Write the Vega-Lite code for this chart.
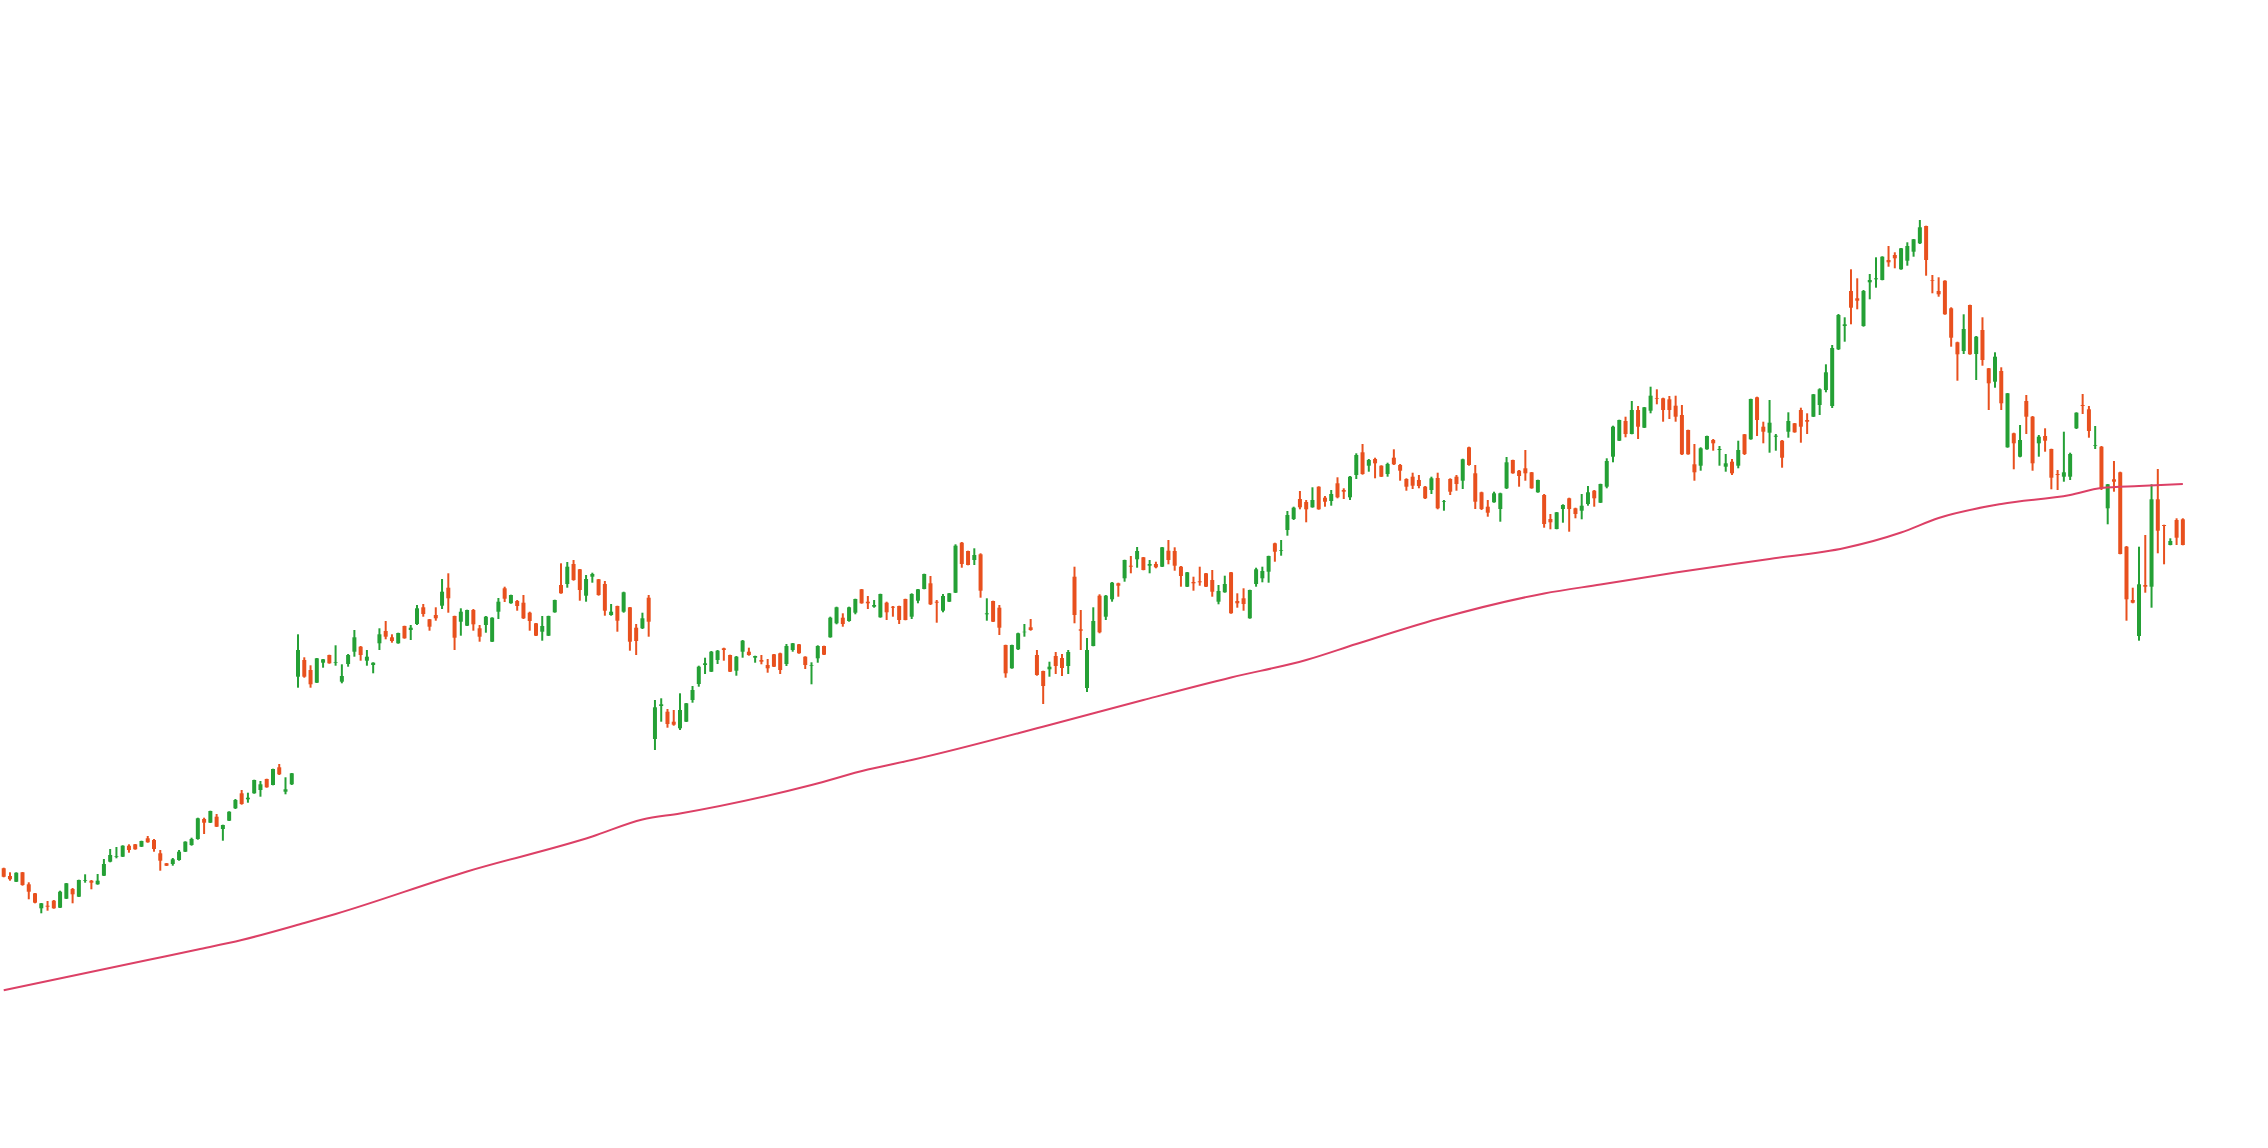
{
"$schema":"https://vega.github.io/schema/vega-lite/v6.json",
"width":2268,"height":1148,
"autosize":{"type":"fit","contains":"padding"},
"padding":0,
"background":"white",
"config":{"view":{"stroke":null}},
"datasets":{
"candles":[
{"day":-1,"open":27.97,"high":28.03,"low":27.07,"close":27.13},
{"day":0,"open":27.2,"high":27.57,"low":26.73,"close":26.87},
{"day":1,"open":26.63,"high":27.57,"low":26.6,"close":27.53},
{"day":2,"open":27.57,"high":27.6,"low":26.23,"close":26.3},
{"day":3,"open":26.37,"high":26.57,"low":24.87,"close":25.63},
{"day":4,"open":25.47,"high":25.5,"low":24.47,"close":24.53},
{"day":5,"open":23.97,"high":24.5,"low":23.47,"close":24.47},
{"day":6,"open":24.23,"high":24.7,"low":23.73,"close":24.13},
{"day":7,"open":24.73,"high":24.8,"low":23.93,"close":23.97},
{"day":8,"open":24.03,"high":25.73,"low":24.0,"close":25.63},
{"day":9,"open":24.93,"high":26.5,"low":24.9,"close":26.47},
{"day":10,"open":25.9,"high":26.0,"low":24.47,"close":25.37},
{"day":11,"open":25.13,"high":26.83,"low":25.1,"close":26.8},
{"day":12,"open":26.7,"high":27.37,"low":26.53,"close":26.77},
{"day":13,"open":26.73,"high":26.8,"low":25.87,"close":26.53},
{"day":14,"open":26.37,"high":27.4,"low":26.33,"close":26.73},
{"day":15,"open":27.23,"high":28.9,"low":27.2,"close":28.4},
{"day":16,"open":28.63,"high":29.9,"low":28.57,"close":29.3},
{"day":17,"open":29.13,"high":30.1,"low":28.97,"close":29.2},
{"day":18,"open":29.13,"high":30.27,"low":29.1,"close":30.23},
{"day":19,"open":30.23,"high":30.37,"low":29.53,"close":29.8},
{"day":20,"open":30.37,"high":30.4,"low":29.83,"close":29.87},
{"day":21,"open":30.13,"high":30.73,"low":30.1,"close":30.7},
{"day":22,"open":30.97,"high":31.2,"low":30.53,"close":30.57},
{"day":23,"open":30.8,"high":30.9,"low":29.63,"close":29.9},
{"day":24,"open":29.47,"high":29.8,"low":27.73,"close":28.73},
{"day":25,"open":28.47,"high":28.5,"low":28.2,"close":28.23},
{"day":26,"open":28.4,"high":29.0,"low":28.23,"close":28.87},
{"day":27,"open":28.8,"high":29.8,"low":28.73,"close":29.63},
{"day":28,"open":29.63,"high":30.67,"low":29.6,"close":30.63},
{"day":29,"open":30.3,"high":31.03,"low":30.23,"close":30.9},
{"day":30,"open":30.9,"high":33.03,"low":30.83,"close":32.97},
{"day":31,"open":32.9,"high":33.03,"low":31.4,"close":32.53},
{"day":32,"open":32.53,"high":33.73,"low":32.5,"close":33.7},
{"day":33,"open":33.13,"high":33.4,"low":32.1,"close":32.13},
{"day":34,"open":31.9,"high":32.33,"low":30.73,"close":32.3},
{"day":35,"open":32.73,"high":33.67,"low":32.7,"close":33.63},
{"day":36,"open":33.97,"high":34.9,"low":33.9,"close":34.8},
{"day":37,"open":35.47,"high":35.8,"low":34.33,"close":34.4},
{"day":38,"open":34.87,"high":35.53,"low":34.53,"close":35.03},
{"day":39,"open":35.47,"high":36.83,"low":35.43,"close":36.8},
{"day":40,"open":35.8,"high":36.7,"low":35.13,"close":36.37},
{"day":41,"open":36.9,"high":36.93,"low":36.03,"close":36.07},
{"day":42,"open":36.3,"high":37.93,"low":36.27,"close":37.9},
{"day":43,"open":38.07,"high":38.4,"low":37.3,"close":37.37},
{"day":44,"open":35.63,"high":37.07,"low":35.37,"close":35.87},
{"day":45,"open":36.37,"high":37.5,"low":36.3,"close":37.47},
{"day":46,"open":47.13,"high":51.37,"low":46.03,"close":49.8},
{"day":47,"open":48.8,"high":49.07,"low":47.03,"close":47.13},
{"day":48,"open":47.8,"high":48.27,"low":46.03,"close":46.37},
{"day":49,"open":46.53,"high":49.0,"low":46.5,"close":48.97},
{"day":50,"open":48.53,"high":48.9,"low":48.03,"close":48.87},
{"day":51,"open":49.3,"high":49.33,"low":48.43,"close":48.47},
{"day":52,"open":48.53,"high":50.27,"low":48.23,"close":48.6},
{"day":53,"open":46.63,"high":48.37,"low":46.47,"close":47.2},
{"day":54,"open":48.4,"high":49.4,"low":48.13,"close":49.3},
{"day":55,"open":49.63,"high":51.8,"low":49.13,"close":51.07},
{"day":56,"open":50.13,"high":50.2,"low":48.73,"close":49.3},
{"day":57,"open":48.73,"high":49.8,"low":48.23,"close":49.13},
{"day":58,"open":48.3,"high":48.57,"low":47.47,"close":48.53},
{"day":59,"open":50.47,"high":51.97,"low":49.8,"close":51.37},
{"day":60,"open":51.7,"high":52.7,"low":50.87,"close":51.13},
{"day":61,"open":51.07,"high":51.37,"low":50.53,"close":50.7},
{"day":62,"open":50.47,"high":51.53,"low":50.43,"close":51.5},
{"day":63,"open":52.2,"high":52.23,"low":50.93,"close":50.97},
{"day":64,"open":51.8,"high":52.3,"low":50.8,"close":52.03},
{"day":65,"open":52.4,"high":54.3,"low":52.3,"close":53.97},
{"day":66,"open":54.07,"high":54.4,"low":53.13,"close":53.4},
{"day":67,"open":52.87,"high":52.9,"low":51.73,"close":52.13},
{"day":68,"open":53.3,"high":54.07,"low":52.73,"close":52.97},
{"day":69,"open":54.23,"high":56.9,"low":53.9,"close":55.63},
{"day":70,"open":56.03,"high":57.47,"low":53.53,"close":54.97},
{"day":71,"open":53.2,"high":53.23,"low":49.8,"close":51.03},
{"day":72,"open":52.63,"high":53.97,"low":51.23,"close":53.63},
{"day":73,"open":52.23,"high":53.83,"low":52.2,"close":53.8},
{"day":74,"open":53.8,"high":53.9,"low":51.73,"close":52.37},
{"day":75,"open":51.97,"high":52.3,"low":50.63,"close":51.13},
{"day":76,"open":52.3,"high":53.2,"low":51.53,"close":53.13},
{"day":77,"open":50.63,"high":53.07,"low":50.6,"close":53.03},
{"day":78,"open":53.63,"high":55.0,"low":52.9,"close":54.63},
{"day":79,"open":55.97,"high":56.13,"low":54.6,"close":54.93},
{"day":80,"open":54.47,"high":55.33,"low":54.43,"close":55.3},
{"day":81,"open":54.7,"high":54.8,"low":53.73,"close":54.2},
{"day":82,"open":54.53,"high":55.3,"low":52.9,"close":52.97},
{"day":83,"open":53.53,"high":53.63,"low":51.73,"close":52.7},
{"day":84,"open":52.47,"high":52.5,"low":51.2,"close":51.23},
{"day":85,"open":51.63,"high":53.2,"low":50.73,"close":52.2},
{"day":86,"open":51.23,"high":53.23,"low":51.2,"close":53.2},
{"day":87,"open":53.57,"high":54.83,"low":53.53,"close":54.8},
{"day":88,"open":56.3,"high":58.47,"low":55.43,"close":55.47},
{"day":89,"open":56.4,"high":58.6,"low":56.03,"close":58.13},
{"day":90,"open":58.4,"high":58.8,"low":56.73,"close":56.8},
{"day":91,"open":57.87,"high":57.9,"low":54.73,"close":55.8},
{"day":92,"open":55.23,"high":57.3,"low":54.63,"close":56.9},
{"day":93,"open":57.13,"high":57.53,"low":56.53,"close":57.4},
{"day":94,"open":56.87,"high":56.9,"low":55.23,"close":55.3},
{"day":95,"open":56.4,"high":56.7,"low":53.23,"close":53.73},
{"day":96,"open":53.3,"high":54.4,"low":53.23,"close":53.63},
{"day":97,"open":54.2,"high":54.23,"low":51.63,"close":52.73},
{"day":98,"open":53.63,"high":55.63,"low":53.53,"close":55.57},
{"day":99,"open":54.07,"high":54.1,"low":49.73,"close":50.63},
{"day":100,"open":52.03,"high":52.4,"low":49.3,"close":50.7},
{"day":101,"open":51.97,"high":53.53,"low":51.9,"close":52.97},
{"day":102,"open":55.03,"high":55.3,"low":51.13,"close":52.63},
{"day":103,"open":40.9,"high":44.8,"low":39.8,"close":44.07},
{"day":104,"open":44.2,"high":44.97,"low":42.63,"close":44.37},
{"day":105,"open":43.63,"high":43.9,"low":42.03,"close":42.4},
{"day":106,"open":42.63,"high":43.8,"low":42.23,"close":42.33},
{"day":107,"open":41.97,"high":45.47,"low":41.8,"close":43.8},
{"day":108,"open":42.63,"high":44.5,"low":42.6,"close":44.47},
{"day":109,"open":44.8,"high":46.2,"low":44.53,"close":45.8},
{"day":110,"open":46.4,"high":48.23,"low":46.13,"close":48.13},
{"day":111,"open":48.3,"high":49.03,"low":47.4,"close":48.47},
{"day":112,"open":47.63,"high":49.7,"low":47.6,"close":49.63},
{"day":113,"open":48.8,"high":49.8,"low":48.4,"close":49.73},
{"day":114,"open":49.97,"high":50.03,"low":48.73,"close":49.8},
{"day":115,"open":49.3,"high":49.33,"low":47.6,"close":47.63},
{"day":116,"open":47.73,"high":49.2,"low":47.23,"close":49.13},
{"day":117,"open":49.63,"high":50.8,"low":49.03,"close":50.73},
{"day":118,"open":49.63,"high":50.03,"low":49.23,"close":49.3},
{"day":119,"open":49.03,"high":49.23,"low":48.53,"close":49.2},
{"day":120,"open":48.8,"high":49.3,"low":48.37,"close":48.63},
{"day":121,"open":48.3,"high":48.9,"low":47.53,"close":47.97},
{"day":122,"open":49.37,"high":49.4,"low":48.1,"close":48.13},
{"day":123,"open":49.47,"high":49.53,"low":47.4,"close":47.8},
{"day":124,"open":48.4,"high":50.4,"low":48.2,"close":50.2},
{"day":125,"open":49.8,"high":50.5,"low":49.63,"close":50.47},
{"day":126,"open":50.37,"high":50.4,"low":49.43,"close":49.47},
{"day":127,"open":49.13,"high":49.17,"low":47.9,"close":48.3},
{"day":128,"open":48.2,"high":48.57,"low":46.37,"close":48.27},
{"day":129,"open":48.97,"high":50.27,"low":48.53,"close":50.2},
{"day":130,"open":50.2,"high":50.23,"low":49.3,"close":49.33},
{"day":131,"open":51.07,"high":53.13,"low":51.03,"close":53.03},
{"day":132,"open":52.47,"high":54.13,"low":52.37,"close":54.07},
{"day":133,"open":53.03,"high":53.47,"low":52.13,"close":52.4},
{"day":134,"open":52.7,"high":54.13,"low":52.63,"close":54.07},
{"day":135,"open":53.53,"high":54.93,"low":53.37,"close":54.9},
{"day":136,"open":55.87,"high":55.9,"low":54.43,"close":54.47},
{"day":137,"open":54.63,"high":55.2,"low":53.9,"close":54.47},
{"day":138,"open":54.13,"high":54.8,"low":54.03,"close":54.3},
{"day":139,"open":53.07,"high":55.43,"low":53.03,"close":55.4},
{"day":140,"open":54.53,"high":54.63,"low":52.8,"close":53.57},
{"day":141,"open":54.13,"high":54.2,"low":53.13,"close":54.03},
{"day":142,"open":54.2,"high":54.23,"low":52.4,"close":52.8},
{"day":143,"open":54.9,"high":54.93,"low":52.77,"close":52.8},
{"day":144,"open":53.13,"high":55.47,"low":52.9,"close":55.4},
{"day":145,"open":54.73,"high":55.9,"low":54.47,"close":55.87},
{"day":146,"open":55.9,"high":57.43,"low":55.87,"close":57.4},
{"day":147,"open":56.47,"high":57.2,"low":54.3,"close":54.37},
{"day":148,"open":54.63,"high":54.8,"low":52.53,"close":54.53},
{"day":149,"open":53.73,"high":55.4,"low":53.57,"close":55.2},
{"day":150,"open":54.63,"high":55.5,"low":54.6,"close":55.47},
{"day":151,"open":55.53,"high":60.37,"low":55.5,"close":60.23},
{"day":152,"open":60.53,"high":60.6,"low":58.03,"close":58.4},
{"day":153,"open":59.7,"high":59.73,"low":58.27,"close":58.3},
{"day":154,"open":58.8,"high":59.97,"low":58.3,"close":59.3},
{"day":155,"open":59.37,"high":59.47,"low":55.03,"close":55.73},
{"day":156,"open":53.37,"high":54.97,"low":52.73,"close":53.47},
{"day":157,"open":54.7,"high":54.73,"low":52.6,"close":52.63},
{"day":158,"open":54.03,"high":54.3,"low":51.3,"close":52.03},
{"day":159,"open":50.3,"high":50.33,"low":47.03,"close":47.47},
{"day":160,"open":47.97,"high":50.33,"low":47.93,"close":50.3},
{"day":161,"open":49.87,"high":51.53,"low":49.8,"close":51.47},
{"day":162,"open":51.57,"high":52.4,"low":51.13,"close":51.63},
{"day":163,"open":52.07,"high":52.9,"low":51.73,"close":51.8},
{"day":164,"open":49.3,"high":49.8,"low":47.23,"close":47.3},
{"day":165,"open":47.7,"high":47.73,"low":44.4,"close":46.2},
{"day":166,"open":47.87,"high":48.63,"low":47.13,"close":48.13},
{"day":167,"open":49.2,"high":49.6,"low":47.4,"close":48.2},
{"day":168,"open":49.0,"high":49.4,"low":47.2,"close":48.0},
{"day":169,"open":48.2,"high":49.8,"low":47.4,"close":49.6},
{"day":170,"open":57.13,"high":58.13,"low":52.47,"close":53.3},
{"day":171,"open":51.87,"high":53.8,"low":49.8,"close":51.73},
{"day":172,"open":46.0,"high":51.0,"low":45.6,"close":49.8},
{"day":173,"open":50.2,"high":54.07,"low":50.17,"close":52.7},
{"day":174,"open":55.23,"high":55.37,"low":51.47,"close":51.57},
{"day":175,"open":53.13,"high":55.3,"low":52.8,"close":55.23},
{"day":176,"open":54.87,"high":56.6,"low":54.63,"close":56.53},
{"day":177,"open":56.47,"high":56.53,"low":55.13,"close":56.23},
{"day":178,"open":56.97,"high":58.83,"low":56.63,"close":58.8},
{"day":179,"open":58.23,"high":59.2,"low":57.47,"close":58.13},
{"day":180,"open":58.87,"high":60.1,"low":58.03,"close":59.7},
{"day":181,"open":59.07,"high":59.1,"low":57.77,"close":57.8},
{"day":182,"open":58.23,"high":58.8,"low":57.47,"close":58.4},
{"day":183,"open":58.4,"high":58.63,"low":57.97,"close":58.07},
{"day":184,"open":58.13,"high":60.1,"low":58.1,"close":60.07},
{"day":185,"open":59.73,"high":60.8,"low":58.37,"close":58.8},
{"day":186,"open":59.7,"high":60.07,"low":57.73,"close":58.23},
{"day":187,"open":58.13,"high":58.2,"low":56.13,"close":57.2},
{"day":188,"open":56.13,"high":57.6,"low":56.1,"close":57.57},
{"day":189,"open":56.6,"high":57.13,"low":55.73,"close":56.47},
{"day":190,"open":56.67,"high":58.13,"low":56.23,"close":56.57},
{"day":191,"open":57.47,"high":57.5,"low":56.1,"close":56.13},
{"day":192,"open":56.8,"high":57.8,"low":55.13,"close":55.63},
{"day":193,"open":54.63,"high":56.3,"low":54.37,"close":55.7},
{"day":194,"open":55.57,"high":57.23,"low":55.53,"close":56.4},
{"day":195,"open":57.57,"high":57.6,"low":53.43,"close":53.47},
{"day":196,"open":54.7,"high":55.47,"low":54.03,"close":54.47},
{"day":197,"open":54.97,"high":55.97,"low":53.73,"close":54.4},
{"day":198,"open":52.97,"high":55.83,"low":52.93,"close":55.8},
{"day":199,"open":56.4,"high":58.03,"low":56.13,"close":57.87},
{"day":200,"open":56.97,"high":58.13,"low":56.57,"close":57.7},
{"day":201,"open":57.63,"high":59.23,"low":56.53,"close":59.2},
{"day":202,"open":60.47,"high":60.53,"low":58.63,"close":59.63},
{"day":203,"open":59.73,"high":60.8,"low":59.23,"close":59.8},
{"day":204,"open":61.8,"high":63.7,"low":61.23,"close":63.3},
{"day":205,"open":62.9,"high":64.13,"low":62.8,"close":64.03},
{"day":206,"open":64.9,"high":65.7,"low":63.87,"close":64.07},
{"day":207,"open":64.6,"high":64.8,"low":62.57,"close":63.87},
{"day":208,"open":64.07,"high":66.07,"low":64.03,"close":64.8},
{"day":209,"open":66.13,"high":66.17,"low":63.83,"close":63.87},
{"day":210,"open":65.03,"high":65.2,"low":64.13,"close":64.63},
{"day":211,"open":64.7,"high":65.8,"low":64.23,"close":65.4},
{"day":212,"open":66.47,"high":67.07,"low":64.97,"close":65.07},
{"day":213,"open":65.8,"high":65.97,"low":64.9,"close":65.63},
{"day":214,"open":65.07,"high":67.2,"low":64.8,"close":67.13},
{"day":215,"open":67.3,"high":69.47,"low":66.9,"close":69.3},
{"day":216,"open":69.57,"high":70.4,"low":67.33,"close":67.4},
{"day":217,"open":68.23,"high":68.9,"low":67.63,"close":68.8},
{"day":218,"open":68.9,"high":69.03,"low":66.97,"close":68.47},
{"day":219,"open":68.23,"high":68.27,"low":67.1,"close":67.13},
{"day":220,"open":67.4,"high":68.53,"low":67.13,"close":68.4},
{"day":221,"open":69.03,"high":69.87,"low":68.3,"close":68.37},
{"day":222,"open":68.3,"high":68.4,"low":66.73,"close":67.73},
{"day":223,"open":66.9,"high":66.97,"low":65.73,"close":66.13},
{"day":224,"open":67.13,"high":67.53,"low":65.9,"close":66.23},
{"day":225,"open":66.8,"high":67.3,"low":65.97,"close":66.2},
{"day":226,"open":66.13,"high":66.2,"low":64.9,"close":64.97},
{"day":227,"open":65.8,"high":67.13,"low":65.4,"close":66.97},
{"day":228,"open":67.0,"high":67.53,"low":63.87,"close":63.97},
{"day":229,"open":64.63,"high":64.8,"low":63.73,"close":64.7},
{"day":230,"open":66.9,"high":66.97,"low":65.3,"close":65.63},
{"day":231,"open":67.13,"high":67.3,"low":65.73,"close":66.4},
{"day":232,"open":66.73,"high":68.93,"low":65.9,"close":68.87},
{"day":233,"open":70.07,"high":70.13,"low":68.23,"close":68.3},
{"day":234,"open":67.47,"high":68.3,"low":63.9,"close":64.63},
{"day":235,"open":65.57,"high":65.63,"low":63.8,"close":63.9},
{"day":236,"open":64.13,"high":64.8,"low":63.13,"close":63.53},
{"day":237,"open":64.57,"high":65.63,"low":64.53,"close":65.47},
{"day":238,"open":63.9,"high":65.53,"low":62.63,"close":65.47},
{"day":239,"open":65.97,"high":69.1,"low":65.9,"close":68.57},
{"day":240,"open":68.8,"high":68.83,"low":67.43,"close":67.47},
{"day":241,"open":67.73,"high":67.8,"low":66.13,"close":67.2},
{"day":242,"open":67.97,"high":69.8,"low":66.73,"close":67.47},
{"day":243,"open":67.57,"high":67.6,"low":65.93,"close":65.97},
{"day":244,"open":65.57,"high":66.83,"low":65.53,"close":66.8},
{"day":245,"open":65.3,"high":65.4,"low":62.03,"close":62.4},
{"day":246,"open":62.9,"high":63.4,"low":61.87,"close":62.57},
{"day":247,"open":61.9,"high":63.6,"low":61.87,"close":63.57},
{"day":248,"open":63.9,"high":64.37,"low":62.53,"close":64.3},
{"day":249,"open":64.97,"high":65.03,"low":61.63,"close":63.9},
{"day":250,"open":63.97,"high":64.03,"low":62.97,"close":63.4},
{"day":251,"open":63.73,"high":65.4,"low":62.87,"close":64.23},
{"day":252,"open":64.4,"high":66.2,"low":64.23,"close":65.57},
{"day":253,"open":65.73,"high":65.8,"low":64.13,"close":64.97},
{"day":254,"open":64.53,"high":66.43,"low":64.5,"close":66.4},
{"day":255,"open":66.13,"high":68.97,"low":65.97,"close":68.7},
{"day":256,"open":69.13,"high":72.23,"low":68.57,"close":72.13},
{"day":257,"open":70.73,"high":72.83,"low":70.7,"close":72.8},
{"day":258,"open":72.7,"high":73.13,"low":71.07,"close":71.4},
{"day":259,"open":71.4,"high":74.7,"low":71.37,"close":73.8},
{"day":260,"open":73.8,"high":74.2,"low":70.9,"close":72.13},
{"day":261,"open":72.03,"high":74.1,"low":72.0,"close":74.07},
{"day":262,"open":73.73,"high":76.13,"low":73.47,"close":75.23},
{"day":263,"open":74.97,"high":75.87,"low":74.37,"close":74.9},
{"day":264,"open":74.97,"high":75.03,"low":72.63,"close":73.8},
{"day":265,"open":74.87,"high":75.2,"low":72.9,"close":73.8},
{"day":266,"open":74.23,"high":75.23,"low":72.63,"close":73.13},
{"day":267,"open":73.3,"high":74.3,"low":69.3,"close":69.37},
{"day":268,"open":71.8,"high":71.83,"low":69.33,"close":69.37},
{"day":269,"open":68.37,"high":70.4,"low":66.73,"close":67.57},
{"day":270,"open":68.23,"high":70.07,"low":67.73,"close":69.97},
{"day":271,"open":69.87,"high":71.23,"low":69.83,"close":71.2},
{"day":272,"open":70.8,"high":70.9,"low":69.73,"close":70.47},
{"day":273,"open":69.8,"high":70.2,"low":68.23,"close":69.9},
{"day":274,"open":68.13,"high":69.4,"low":67.63,"close":68.47},
{"day":275,"open":68.63,"high":68.9,"low":67.3,"close":67.47},
{"day":276,"open":68.23,"high":70.73,"low":67.97,"close":69.8},
{"day":277,"open":71.37,"high":71.4,"low":69.3,"close":69.4},
{"day":278,"open":70.87,"high":74.93,"low":70.83,"close":74.9},
{"day":279,"open":75.07,"high":75.13,"low":71.2,"close":72.8},
{"day":280,"open":72.13,"high":72.63,"low":70.47,"close":71.63},
{"day":281,"open":71.53,"high":74.8,"low":69.53,"close":72.53},
{"day":282,"open":71.13,"high":71.4,"low":69.73,"close":71.23},
{"day":283,"open":70.73,"high":70.8,"low":68.03,"close":69.03},
{"day":284,"open":71.63,"high":73.57,"low":71.03,"close":72.7},
{"day":285,"open":72.47,"high":72.5,"low":71.53,"close":71.57},
{"day":286,"open":73.8,"high":74.03,"low":70.53,"close":72.13},
{"day":287,"open":72.8,"high":73.47,"low":71.4,"close":72.63},
{"day":288,"open":73.13,"high":75.4,"low":73.1,"close":75.37},
{"day":289,"open":74.3,"high":75.97,"low":73.3,"close":75.87},
{"day":290,"open":75.8,"high":78.37,"low":75.57,"close":77.57},
{"day":291,"open":74.2,"high":80.3,"low":74.0,"close":80.0},
{"day":292,"open":79.87,"high":83.4,"low":79.8,"close":83.3},
{"day":293,"open":82.2,"high":83.07,"low":80.63,"close":82.37},
{"day":294,"open":85.7,"high":87.87,"low":82.37,"close":84.03},
{"day":295,"open":84.97,"high":86.97,"low":83.87,"close":84.73},
{"day":296,"open":82.2,"high":85.8,"low":82.13,"close":85.7},
{"day":297,"open":86.57,"high":87.4,"low":84.87,"close":86.8},
{"day":298,"open":86.87,"high":89.07,"low":86.03,"close":86.97},
{"day":299,"open":86.8,"high":89.17,"low":86.77,"close":89.13},
{"day":300,"open":88.8,"high":90.2,"low":88.13,"close":88.57},
{"day":301,"open":89.3,"high":89.57,"low":87.97,"close":88.97},
{"day":302,"open":87.87,"high":90.0,"low":87.83,"close":89.97},
{"day":303,"open":88.73,"high":90.57,"low":88.23,"close":90.2},
{"day":304,"open":89.63,"high":90.9,"low":89.13,"close":90.87},
{"day":305,"open":90.47,"high":92.8,"low":90.4,"close":92.07},
{"day":306,"open":92.2,"high":92.23,"low":87.23,"close":88.8},
{"day":307,"open":86.8,"high":87.3,"low":85.47,"close":86.73},
{"day":308,"open":85.7,"high":87.07,"low":85.13,"close":85.37},
{"day":309,"open":86.73,"high":86.77,"low":83.33,"close":83.37},
{"day":310,"open":83.97,"high":84.07,"low":80.13,"close":81.03},
{"day":311,"open":80.57,"high":80.63,"low":76.73,"close":79.37},
{"day":312,"open":79.7,"high":83.37,"low":79.4,"close":81.9},
{"day":313,"open":84.3,"high":84.33,"low":79.33,"close":79.37},
{"day":314,"open":79.4,"high":81.2,"low":76.8,"close":81.13},
{"day":315,"open":81.8,"high":83.07,"low":78.23,"close":78.8},
{"day":316,"open":77.97,"high":78.0,"low":73.8,"close":76.47},
{"day":317,"open":76.63,"high":79.57,"low":76.03,"close":79.13},
{"day":318,"open":77.7,"high":78.07,"low":73.8,"close":74.47},
{"day":319,"open":70.07,"high":75.5,"low":70.03,"close":75.47},
{"day":320,"open":71.47,"high":71.53,"low":67.87,"close":70.47},
{"day":321,"open":69.13,"high":72.3,"low":69.07,"close":70.8},
{"day":322,"open":74.7,"high":75.3,"low":71.4,"close":73.13},
{"day":323,"open":73.13,"high":73.2,"low":67.73,"close":68.47},
{"day":324,"open":70.47,"high":71.3,"low":69.13,"close":71.13},
{"day":325,"open":71.2,"high":71.97,"low":69.63,"close":70.73},
{"day":326,"open":69.9,"high":69.93,"low":65.87,"close":67.03},
{"day":327,"open":67.4,"high":67.8,"low":65.8,"close":67.3},
{"day":328,"open":67.13,"high":71.63,"low":66.63,"close":67.57},
{"day":329,"open":67.13,"high":69.53,"low":66.8,"close":69.4},
{"day":330,"open":71.97,"high":73.57,"low":71.9,"close":73.53},
{"day":331,"open":74.3,"high":75.4,"low":73.4,"close":74.2},
{"day":332,"open":73.87,"high":74.2,"low":71.03,"close":71.7},
{"day":333,"open":70.23,"high":72.2,"low":69.9,"close":70.3},
{"day":334,"open":70.13,"high":70.2,"low":65.8,"close":65.97},
{"day":335,"open":63.97,"high":66.4,"low":62.37,"close":66.37},
{"day":336,"open":66.87,"high":68.7,"low":65.63,"close":66.63},
{"day":337,"open":67.57,"high":67.63,"low":59.37,"close":59.4},
{"day":338,"open":60.13,"high":60.2,"low":52.73,"close":54.87},
{"day":339,"open":54.8,"high":56.03,"low":54.47,"close":54.53},
{"day":340,"open":51.2,"high":60.13,"low":50.73,"close":56.37},
{"day":341,"open":56.3,"high":61.3,"low":55.53,"close":56.13},
{"day":342,"open":56.13,"high":66.37,"low":54.03,"close":64.87},
{"day":343,"open":64.87,"high":67.9,"low":59.47,"close":61.73},
{"day":344,"open":62.3,"high":62.33,"low":58.37,"close":62.2},
{"day":345,"open":60.3,"high":60.97,"low":60.27,"close":60.7},
{"day":346,"open":62.8,"high":62.97,"low":60.3,"close":61.03},
{"day":347,"open":62.87,"high":62.97,"low":60.27,"close":60.3}
],
"ma":[
{"day":-1,"ma":15.77},{"day":22,"ma":18.8},{"day":30,"ma":19.85},{"day":37,"ma":20.8},{"day":47,"ma":22.5},{"day":52,"ma":23.4},{"day":73,"ma":27.65},{"day":93,"ma":31.15},{"day":101,"ma":32.85},{"day":107,"ma":33.45},{"day":128,"ma":36.3},{"day":137,"ma":37.85},{"day":144,"ma":38.8},{"day":166,"ma":42.3},{"day":181,"ma":44.8},{"day":195,"ma":47.05},{"day":207,"ma":48.8},{"day":215,"ma":50.4},{"day":228,"ma":52.9},{"day":245,"ma":55.45},{"day":254,"ma":56.35},{"day":266,"ma":57.55},{"day":281,"ma":58.9},{"day":293,"ma":60.0},{"day":302,"ma":61.55},{"day":308,"ma":63.0},{"day":318,"ma":64.4},{"day":329,"ma":65.3},{"day":334,"ma":66.0},{"day":340,"ma":66.2},{"day":347,"ma":66.4}
]
},
"layer":[
{"data":{"name":"candles"},"mark":{"type":"rule","strokeWidth":2,"clip":true},
 "encoding":{
  "x":{"field":"day","type":"quantitative","scale":{"domain":[-0.795,359.8],"nice":false,"zero":false},"axis":null},
  "y":{"field":"low","type":"quantitative","scale":{"domain":[0,114.8],"nice":false,"zero":false},"axis":null},
  "y2":{"field":"high"},
  "color":{"condition":{"test":"datum.close > datum.open","value":"#24a035"},"value":"#e8501e"}}},
{"data":{"name":"candles"},"mark":{"type":"bar","size":4,"clip":true},
 "encoding":{
  "x":{"field":"day","type":"quantitative","scale":{"domain":[-0.795,359.8],"nice":false,"zero":false},"axis":null},
  "y":{"field":"open","type":"quantitative","scale":{"domain":[0,114.8],"nice":false,"zero":false},"axis":null},
  "y2":{"field":"close"},
  "color":{"condition":{"test":"datum.close > datum.open","value":"#24a035"},"value":"#e8501e"}}},
{"data":{"name":"ma"},"mark":{"type":"line","color":"#dc4066","strokeWidth":2,"clip":true,"interpolate":"monotone"},
 "encoding":{
  "x":{"field":"day","type":"quantitative","scale":{"domain":[-0.795,359.8],"nice":false,"zero":false},"axis":null},
  "y":{"field":"ma","type":"quantitative","scale":{"domain":[0,114.8],"nice":false,"zero":false},"axis":null}}}
]
}
